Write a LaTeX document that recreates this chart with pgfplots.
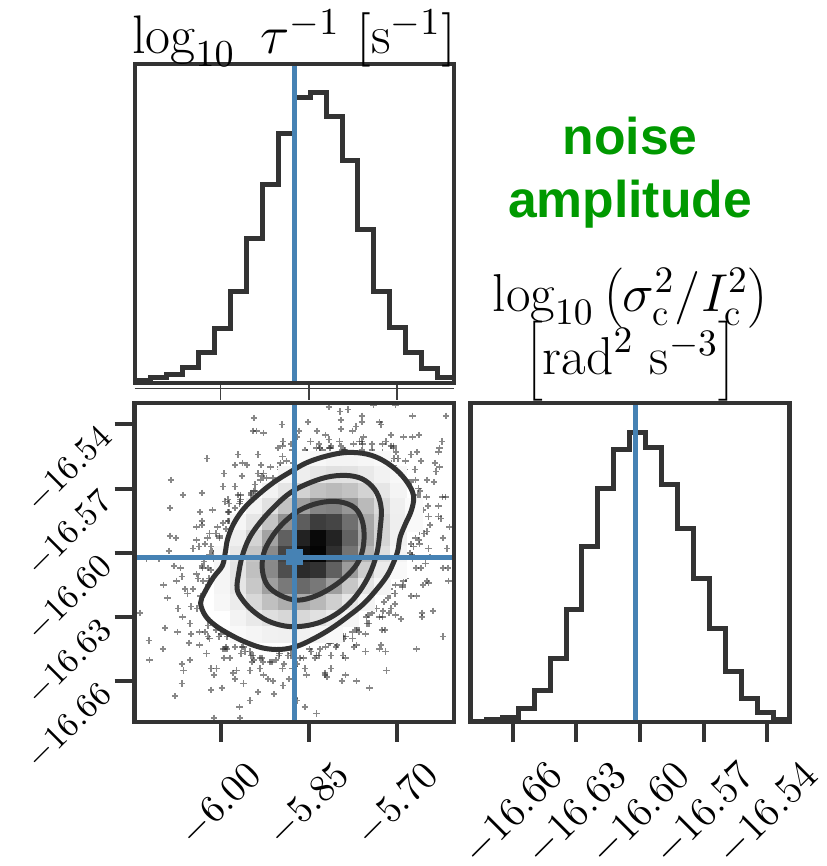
\RequirePackage{fix-cm}
\documentclass[border=0pt]{standalone}
\usepackage{fontspec}
\usepackage{pgfplots}
\pgfplotsset{compat=1.18}
\newfontfamily\arial{Liberation Sans}
\definecolor{truth}{HTML}{4682B4}
\definecolor{dk}{HTML}{333333}
\definecolor{grn}{HTML}{009900}
\pgfplotsset{cornerax/.style={
  scale only axis, width=95.7pt, height=95.7pt,
  axis on top, clip mode=individual,
  axis line style={dk, line width=1.3pt},
  tick style={dk, line width=1.2pt},
  major tick length=6pt, tick align=outside,
  scaled ticks=false,
  /pgf/number format/fixed, /pgf/number format/fixed zerofill, /pgf/number format/precision=2,
}}
\pgfplotstableread{
x y
-5.7015 -16.5606
-5.666 -16.553
-5.687 -16.561
-5.624 -16.548
-5.670 -16.561
-5.684 -16.566
-5.636 -16.558
-5.669 -16.566
-5.677 -16.571
-5.638 -16.567
-5.665 -16.573
-5.650 -16.574
-5.668 -16.578
-5.618 -16.574
-5.656 -16.580
-5.669 -16.585
-5.630 -16.583
-5.661 -16.587
-5.649 -16.590
-5.669 -16.593
-5.622 -16.593
-5.662 -16.596
-5.678 -16.600
-5.644 -16.602
-5.674 -16.603
-5.614 -16.607
-5.668 -16.607
-5.688 -16.608
-5.649 -16.613
-5.685 -16.612
-5.703 -16.615
-5.677 -16.620
-5.704 -16.619
-5.658 -16.628
-5.704 -16.624
-5.722 -16.623
-5.694 -16.631
-5.724 -16.627
-5.667 -16.645
-5.743 -16.628
-5.726 -16.636
-5.748 -16.633
-5.720 -16.646
-5.754 -16.638
-5.768 -16.635
-5.754 -16.646
-5.776 -16.640
-5.747 -16.663
-5.792 -16.639
-5.788 -16.649
-5.802 -16.643
-5.794 -16.660
-5.812 -16.648
-5.822 -16.644
-5.823 -16.657
-5.833 -16.648
-5.837 -16.675
-5.846 -16.646
-5.854 -16.657
-5.859 -16.649
-5.874 -16.668
-5.874 -16.653
-5.877 -16.649
-5.894 -16.662
-5.892 -16.652
-5.901 -16.648
-5.920 -16.659
-5.916 -16.651
-5.950 -16.669
-5.933 -16.654
-5.930 -16.649
-5.961 -16.661
-5.947 -16.651
-6.011 -16.677
-5.950 -16.646
-5.979 -16.656
-5.965 -16.647
-6.016 -16.664
-5.984 -16.649
-5.975 -16.644
-6.016 -16.654
-5.991 -16.644
-6.077 -16.667
-5.989 -16.639
-6.024 -16.647
-6.003 -16.639
-6.066 -16.652
-6.021 -16.639
-6.006 -16.634
-6.054 -16.642
-6.021 -16.634
-6.121 -16.650
-6.013 -16.629
-6.052 -16.633
-6.025 -16.627
-6.094 -16.635
-6.040 -16.626
-6.022 -16.622
-6.072 -16.626
-6.034 -16.620
-6.137 -16.628
-6.021 -16.615
-6.060 -16.617
-6.030 -16.613
-6.097 -16.615
-6.041 -16.610
-6.021 -16.607
-6.068 -16.607
-6.028 -16.604
-6.126 -16.603
-6.012 -16.600
-6.047 -16.598
-6.016 -16.597
-6.076 -16.593
-6.022 -16.593
-6.002 -16.592
-6.041 -16.588
-6.005 -16.588
-6.086 -16.579
-5.987 -16.585
-6.014 -16.580
-5.986 -16.581
-6.032 -16.572
-5.986 -16.577
-5.968 -16.577
-5.996 -16.569
-5.966 -16.573
-6.023 -16.556
-5.948 -16.572
-5.964 -16.564
-5.942 -16.568
-5.970 -16.554
-5.937 -16.563
-5.922 -16.565
-5.936 -16.554
-5.915 -16.560
-5.943 -16.537
-5.898 -16.561
-5.903 -16.551
-5.888 -16.557
-5.896 -16.540
-5.878 -16.552
-5.869 -16.556
-5.867 -16.543
-5.857 -16.552
-5.844 -16.554
-5.836 -16.543
-5.831 -16.551
-5.816 -16.532
-5.816 -16.547
-5.813 -16.551
-5.796 -16.538
-5.798 -16.548
-5.789 -16.552
-5.770 -16.541
-5.774 -16.549
-5.740 -16.531
-5.757 -16.546
-5.760 -16.552
-5.730 -16.539
-5.743 -16.549
-5.740 -16.554
-5.711 -16.545
-5.725 -16.553
-5.674 -16.536
-5.706 -16.551
-5.715 -16.557
-5.674 -16.546
-5.699 -16.556
-5.686 -16.557
-5.695 -16.564
-5.630 -16.553
-5.677 -16.567
-5.649 -16.566
-5.661 -16.575
-5.623 -16.574
-5.667 -16.582
-5.644 -16.587
-5.654 -16.591
-5.676 -16.596
-5.615 -16.598
-5.675 -16.602
-5.659 -16.607
-5.613 -16.613
-5.689 -16.613
-5.667 -16.620
-5.712 -16.619
-5.622 -16.639
-5.714 -16.628
-5.730 -16.630
-5.752 -16.630
-5.730 -16.645
-5.769 -16.636
-5.773 -16.644
-5.769 -16.660
-5.804 -16.644
-5.812 -16.654
-5.831 -16.645
-5.857 -16.654
-5.870 -16.652
-5.880 -16.647
-5.909 -16.666
-5.906 -16.650
-5.927 -16.657
-5.968 -16.672
-5.943 -16.650
-5.975 -16.659
-5.958 -16.646
-5.994 -16.649
-5.996 -16.645
-5.988 -16.638
-6.052 -16.650
-6.008 -16.636
-6.036 -16.637
-6.098 -16.645
-6.027 -16.628
-6.065 -16.630
-6.022 -16.621
-6.047 -16.617
-6.038 -16.612
-6.016 -16.608
-6.079 -16.606
-6.019 -16.601
-6.037 -16.597
-6.086 -16.592
-6.008 -16.591
-6.032 -16.585
-5.986 -16.585
-6.084 -16.566
-5.987 -16.575
-5.971 -16.573
-5.948 -16.573
-5.975 -16.559
-5.932 -16.566
-5.931 -16.559
-5.939 -16.543
-5.898 -16.558
-5.894 -16.548
-5.872 -16.557
-5.847 -16.548
-5.833 -16.549
-5.822 -16.553
-5.797 -16.534
-5.796 -16.550
-5.776 -16.543
-5.759 -16.549
-5.728 -16.540
-5.742 -16.553
-5.706 -16.550
-5.702 -16.553
-5.709 -16.560
-5.693 -16.561
-5.660 -16.557
-5.686 -16.567
-5.628 -16.560
-5.664 -16.570
-5.677 -16.575
-5.648 -16.578
-5.668 -16.584
-5.626 -16.584
-5.662 -16.590
-5.672 -16.597
-5.675 -16.601
-5.652 -16.605
-5.690 -16.607
-5.647 -16.614
-5.691 -16.615
-5.712 -16.617
-5.658 -16.630
-5.711 -16.626
-5.735 -16.626
-5.721 -16.636
-5.751 -16.633
-5.718 -16.655
-5.776 -16.637
-5.788 -16.639
-5.792 -16.648
-5.813 -16.642
-5.819 -16.658
-5.837 -16.648
-5.849 -16.645
-5.870 -16.669
-5.878 -16.654
-5.886 -16.648
-5.911 -16.660
-5.913 -16.651
-5.967 -16.677
-5.933 -16.649
-5.945 -16.648
-5.973 -16.655
-5.961 -16.644
-6.011 -16.657
-5.989 -16.645
-5.983 -16.639
-6.063 -16.655
-6.019 -16.640
-6.006 -16.633
-6.050 -16.638
-6.022 -16.629
-6.122 -16.641
-6.023 -16.623
-6.025 -16.620
-6.056 -16.619
-6.019 -16.613
-6.075 -16.613
-6.031 -16.607
-6.011 -16.603
-6.088 -16.599
-6.027 -16.596
-6.002 -16.593
-6.032 -16.587
-5.996 -16.586
-6.064 -16.573
-5.976 -16.579
-5.967 -16.576
-5.976 -16.569
-5.944 -16.571
-5.963 -16.558
-5.930 -16.564
-5.911 -16.565
-5.927 -16.544
-5.895 -16.555
-5.877 -16.558
-5.870 -16.546
-5.853 -16.553
-5.828 -16.552
-5.815 -16.551
-5.796 -16.542
-5.793 -16.552
-5.760 -16.536
-5.764 -16.548
-5.760 -16.554
-5.703 -16.531
-5.725 -16.549
-5.728 -16.555
-5.689 -16.546
-5.705 -16.556
-5.617 -16.536
-5.677 -16.554
-5.690 -16.561
-5.628 -16.551
-5.684 -16.568
-5.634 -16.562
-5.661 -16.571
-5.666 -16.578
-5.630 -16.578
-5.647 -16.583
-5.673 -16.588
-5.611 -16.588
-5.663 -16.594
-5.647 -16.598
-5.674 -16.602
-5.622 -16.607
-5.691 -16.608
-5.656 -16.615
-5.691 -16.616
-5.639 -16.627
-5.716 -16.621
-5.703 -16.629
-5.725 -16.630
-5.750 -16.629
-5.728 -16.643
-5.765 -16.637
-5.769 -16.643
-5.790 -16.640
-5.788 -16.657
-5.816 -16.642
-5.823 -16.656
-5.840 -16.649
-5.857 -16.672
-5.865 -16.649
-5.884 -16.659
-5.895 -16.654
-5.900 -16.647
-5.936 -16.665
-5.928 -16.651
-5.950 -16.655
-5.948 -16.648
-5.998 -16.663
-5.964 -16.644
-6.007 -16.654
-5.992 -16.645
-6.066 -16.661
-5.999 -16.638
-6.036 -16.643
-6.027 -16.637
-6.008 -16.630
-6.073 -16.637
-6.028 -16.626
-6.050 -16.625
-6.027 -16.619
-6.090 -16.621
-6.020 -16.612
-6.066 -16.611
-6.032 -16.606
-6.105 -16.603
-6.014 -16.599
-6.041 -16.594
-6.019 -16.591
-5.991 -16.589
-6.035 -16.581
-5.987 -16.581
-5.992 -16.576
-5.966 -16.575
-5.994 -16.563
-5.942 -16.571
-5.955 -16.559
-5.927 -16.563
-5.945 -16.543
-5.899 -16.560
-5.895 -16.550
-5.880 -16.549
-5.862 -16.557
-5.851 -16.539
-5.837 -16.551
-5.822 -16.545
-5.812 -16.550
-5.784 -16.533
-5.790 -16.552
-5.760 -16.539
-5.760 -16.548
-5.743 -16.552
-5.719 -16.548
-5.711 -16.550
-5.720 -16.558
-5.663 -16.545
}\samples
\pgfplotstableread{
x y d
-5.970 -16.5859 0.034
-5.943 -16.5784 0.046
-5.916 -16.5710 0.047
-5.889 -16.5635 0.036
-5.861 -16.5561 0.020
-5.997 -16.6008 0.029
-5.970 -16.5933 0.062
-5.943 -16.5859 0.098
-5.916 -16.5784 0.116
-5.889 -16.5710 0.102
-5.861 -16.5635 0.067
-5.834 -16.5561 0.032
-5.997 -16.6082 0.037
-5.970 -16.6008 0.092
-5.943 -16.5933 0.169
-5.916 -16.5859 0.230
-5.889 -16.5784 0.235
-5.861 -16.5710 0.177
-5.834 -16.5635 0.099
-5.807 -16.5561 0.042
-5.997 -16.6157 0.037
-5.970 -16.6082 0.105
-5.943 -16.6008 0.225
-5.916 -16.5933 0.357
-5.889 -16.5859 0.423
-5.861 -16.5784 0.372
-5.834 -16.5710 0.242
-5.807 -16.5635 0.116
-5.780 -16.5561 0.042
-5.997 -16.6231 0.030
-5.970 -16.6157 0.098
-5.943 -16.6082 0.247
-5.916 -16.6008 0.454
-5.889 -16.5933 0.621
-5.861 -16.5859 0.631
-5.834 -16.5784 0.477
-5.807 -16.5710 0.267
-5.780 -16.5635 0.112
-5.753 -16.5561 0.034
-5.970 -16.6231 0.074
-5.943 -16.6157 0.214
-5.916 -16.6082 0.458
-5.889 -16.6008 0.730
-5.861 -16.5933 0.862
-5.834 -16.5859 0.756
-5.807 -16.5784 0.492
-5.780 -16.5710 0.237
-5.753 -16.5635 0.085
-5.726 -16.5561 0.023
-5.970 -16.6306 0.045
-5.943 -16.6231 0.150
-5.916 -16.6157 0.375
-5.889 -16.6082 0.691
-5.861 -16.6008 0.942
-5.834 -16.5933 0.958
-5.807 -16.5859 0.726
-5.780 -16.5784 0.407
-5.753 -16.5710 0.170
-5.726 -16.5635 0.052
-5.970 -16.6380 0.022
-5.943 -16.6306 0.085
-5.916 -16.6231 0.244
-5.889 -16.6157 0.522
-5.861 -16.6082 0.827
-5.834 -16.6008 0.976
-5.807 -16.5933 0.856
-5.780 -16.5859 0.560
-5.753 -16.5784 0.270
-5.726 -16.5710 0.097
-5.699 -16.5635 0.026
-5.943 -16.6380 0.038
-5.916 -16.6306 0.126
-5.889 -16.6231 0.317
-5.861 -16.6157 0.583
-5.834 -16.6082 0.798
-5.807 -16.6008 0.811
-5.780 -16.5933 0.613
-5.753 -16.5859 0.343
-5.726 -16.5784 0.144
-5.699 -16.5710 0.044
-5.916 -16.6380 0.053
-5.889 -16.6306 0.154
-5.861 -16.6231 0.330
-5.834 -16.6157 0.527
-5.807 -16.6082 0.619
-5.780 -16.6008 0.543
-5.753 -16.5933 0.353
-5.726 -16.5859 0.170
-5.699 -16.5784 0.061
-5.889 -16.6380 0.060
-5.861 -16.6306 0.150
-5.834 -16.6231 0.275
-5.807 -16.6157 0.379
-5.780 -16.6082 0.387
-5.753 -16.6008 0.289
-5.726 -16.5933 0.164
-5.699 -16.5859 0.068
-5.672 -16.5784 0.021
-5.861 -16.6380 0.054
-5.834 -16.6306 0.116
-5.807 -16.6231 0.185
-5.780 -16.6157 0.219
-5.753 -16.6082 0.192
-5.726 -16.6008 0.125
-5.699 -16.5933 0.060
-5.672 -16.5859 0.022
-5.834 -16.6380 0.040
-5.807 -16.6306 0.073
-5.780 -16.6231 0.099
-5.753 -16.6157 0.101
-5.726 -16.6082 0.077
-5.699 -16.6008 0.043
-5.807 -16.6380 0.023
-5.780 -16.6306 0.037
-5.753 -16.6231 0.044
-5.726 -16.6157 0.038
-5.699 -16.6082 0.025
}\density
\begin{document}
\begin{tikzpicture}[x=1pt,y=1pt]
\clip (0,0) rectangle (248.1,259.8);
% ---- top-left histogram
\begin{axis}[cornerax, at={(40.4pt,144.9pt)}, anchor=south west,
  xmin=-6.146, xmax=-5.604, ymin=0, ymax=1.1,
  xtick={-6.00,-5.85,-5.70}, xticklabels={}, ytick=\empty, xtick pos=bottom,
  tick style={black!75, line width=0.5pt}, major tick length=5.1pt]
\addplot[const plot, dk, line width=1.5pt] coordinates {
(-6.146,0.01) (-6.1189,0.02) (-6.0918,0.03) (-6.0647,0.055) (-6.0376,0.104)
(-6.0105,0.188) (-5.9834,0.315) (-5.9563,0.497) (-5.9292,0.685) (-5.9021,0.861)
(-5.875,0.985) (-5.8479,1.0) (-5.8208,0.919) (-5.7937,0.766) (-5.7666,0.529)
(-5.7395,0.315) (-5.7124,0.19) (-5.6853,0.104) (-5.6582,0.05) (-5.6311,0.02) (-5.604,0.02)};
\addplot[truth, line width=1.5pt] coordinates {(-5.874,0) (-5.874,1.1)};
\end{axis}
\draw[black!75, line width=0.5pt] (40.4,143.2) -- (136.1,143.2);
% ---- 2D panel
\begin{axis}[cornerax, at={(40.4pt,43.2pt)}, anchor=south west,
  xmin=-6.146, xmax=-5.604, ymin=-16.679, ymax=-16.530,
  xtick={-6.00,-5.85,-5.70}, ytick={-16.66,-16.63,-16.60,-16.57,-16.54},
  xtick pos=bottom, ytick pos=left,
  xticklabel style={font=\fontsize{11.6}{13}\selectfont, rotate=45, anchor=center}, xticklabel shift=18.8pt,
  yticklabel style={font=\fontsize{10.3}{12}\selectfont, rotate=45, anchor=east},
  colormap={gk}{color=(white) color=(black)}, point meta min=0, point meta max=1]
\addplot[only marks, mark=+, mark size=0.95pt, black!85, opacity=0.55, mark options={line width=0.5pt}] table[x=x,y=y] {\samples};
\addplot[fill=white, draw=none, smooth cycle, tension=0.6] coordinates {
(-6.034,-16.6234) (-6.027,-16.6184) (-6.012,-16.6114) (-5.997,-16.6060) (-5.992,-16.5997)
(-5.988,-16.5935) (-5.978,-16.5865) (-5.961,-16.5795) (-5.938,-16.5733) (-5.910,-16.5671)
(-5.881,-16.5621) (-5.853,-16.5578) (-5.819,-16.5547) (-5.785,-16.5531) (-5.751,-16.5539)
(-5.723,-16.5570) (-5.697,-16.5624) (-5.679,-16.5687) (-5.672,-16.5741) (-5.676,-16.5803)
(-5.686,-16.5865) (-5.695,-16.5927) (-5.699,-16.5990) (-5.706,-16.6044) (-5.717,-16.6106)
(-5.734,-16.6168) (-5.757,-16.6238) (-5.785,-16.6300) (-5.813,-16.6355) (-5.842,-16.6401)
(-5.870,-16.6436) (-5.898,-16.6451) (-5.927,-16.6445) (-5.955,-16.6420) (-5.983,-16.6383)
(-6.009,-16.6339) (-6.026,-16.6293)};
\addplot[scatter, only marks, mark=square*, mark size=2.42pt, point meta=explicit,
  scatter/use mapped color={draw=mapped color, fill=mapped color}, mark options={line width=0.1pt}]
  table[x=x, y=y, meta=d] {\density};
\addplot[draw=dk, line width=1.5pt, smooth cycle, tension=0.6] coordinates {
(-6.034,-16.6234) (-6.027,-16.6184) (-6.012,-16.6114) (-5.997,-16.6060) (-5.992,-16.5997)
(-5.988,-16.5935) (-5.978,-16.5865) (-5.961,-16.5795) (-5.938,-16.5733) (-5.910,-16.5671)
(-5.881,-16.5621) (-5.853,-16.5578) (-5.819,-16.5547) (-5.785,-16.5531) (-5.751,-16.5539)
(-5.723,-16.5570) (-5.697,-16.5624) (-5.679,-16.5687) (-5.672,-16.5741) (-5.676,-16.5803)
(-5.686,-16.5865) (-5.695,-16.5927) (-5.699,-16.5990) (-5.706,-16.6044) (-5.717,-16.6106)
(-5.734,-16.6168) (-5.757,-16.6238) (-5.785,-16.6300) (-5.813,-16.6355) (-5.842,-16.6401)
(-5.870,-16.6436) (-5.898,-16.6451) (-5.927,-16.6445) (-5.955,-16.6420) (-5.983,-16.6383)
(-6.009,-16.6339) (-6.026,-16.6293)};
\addplot[draw=dk, line width=1.5pt, smooth cycle, tension=0.6] coordinates {
(-5.972,-16.6168) (-5.969,-16.6091) (-5.963,-16.6013) (-5.952,-16.5935) (-5.935,-16.5865)
(-5.910,-16.5788) (-5.881,-16.5718) (-5.847,-16.5671) (-5.813,-16.5643) (-5.779,-16.5640)
(-5.754,-16.5663) (-5.735,-16.5718) (-5.727,-16.5795) (-5.729,-16.5889) (-5.733,-16.5982)
(-5.741,-16.6060) (-5.754,-16.6137) (-5.774,-16.6215) (-5.799,-16.6277) (-5.828,-16.6321)
(-5.859,-16.6342) (-5.890,-16.6342) (-5.921,-16.6316) (-5.946,-16.6269) (-5.963,-16.6218)};
\addplot[draw=dk, line width=1.5pt, smooth cycle, tension=0.6] coordinates {
(-5.929,-16.6083) (-5.927,-16.6005) (-5.915,-16.5935) (-5.895,-16.5865) (-5.867,-16.5803)
(-5.833,-16.5767) (-5.799,-16.5761) (-5.771,-16.5792) (-5.758,-16.5865) (-5.757,-16.5959)
(-5.765,-16.6036) (-5.782,-16.6098) (-5.808,-16.6156) (-5.839,-16.6202) (-5.870,-16.6221)
(-5.898,-16.6199) (-5.920,-16.6153)};
\addplot[truth, line width=1.5pt] coordinates {(-5.874,-16.679) (-5.874,-16.530)};
\addplot[truth, line width=1.5pt] coordinates {(-6.146,-16.602) (-5.604,-16.602)};
\addplot[truth, only marks, mark=square*, mark size=2.3pt] coordinates {(-5.874,-16.602)};
\end{axis}
% ---- bottom-right histogram
\begin{axis}[cornerax, at={(141.1pt,43.2pt)}, anchor=south west,
  xmin=-16.680, xmax=-16.5297, ymin=0, ymax=1.1,
  xtick={-16.66,-16.63,-16.60,-16.57,-16.54}, ytick=\empty, xtick pos=bottom,
  xticklabel style={font=\fontsize{12.4}{14}\selectfont, rotate=45, anchor=center}, xticklabel shift=21.6pt]
\addplot[const plot, dk, line width=1.5pt] coordinates {
(-16.6800,0.003) (-16.6725,0.01) (-16.6650,0.015) (-16.6575,0.047) (-16.6499,0.109)
(-16.6424,0.219) (-16.6349,0.389) (-16.6274,0.606) (-16.6199,0.804) (-16.6124,0.939)
(-16.6049,1.0) (-16.5973,0.948) (-16.5898,0.818) (-16.5823,0.666) (-16.5748,0.495)
(-16.5673,0.323) (-16.5598,0.173) (-16.5523,0.082) (-16.5447,0.032) (-16.5372,0.01) (-16.5297,0.01)};
\addplot[truth, line width=1.5pt] coordinates {(-16.602,0) (-16.602,1.1)};
\end{axis}
% ---- labels
\node[anchor=base] at (88.2,243.6) {\fontsize{16.3}{20}\selectfont$\log_{10}\ \tau^{-1}\ [\mathrm{s}^{-1}]$};
\node[anchor=base] at (189.2,166.2) {\fontsize{16}{19}\selectfont$\log_{10}\left(\sigma_\mathrm{c}^2/I_\mathrm{c}^2\right)$};
\node[anchor=base] at (189.2,147.3) {\fontsize{16}{19}\selectfont$\left[\mathrm{rad}^2\ \mathrm{s}^{-3}\right]$};
\node[anchor=base, text=grn, font={\fontsize{15.5}{18}\selectfont\arial\bfseries}] at (189.0,213.3) {noise};
\node[anchor=base, text=grn, font={\fontsize{15.5}{18}\selectfont\arial\bfseries}] at (189.0,194.4) {amplitude};
\end{tikzpicture}
\end{document}
